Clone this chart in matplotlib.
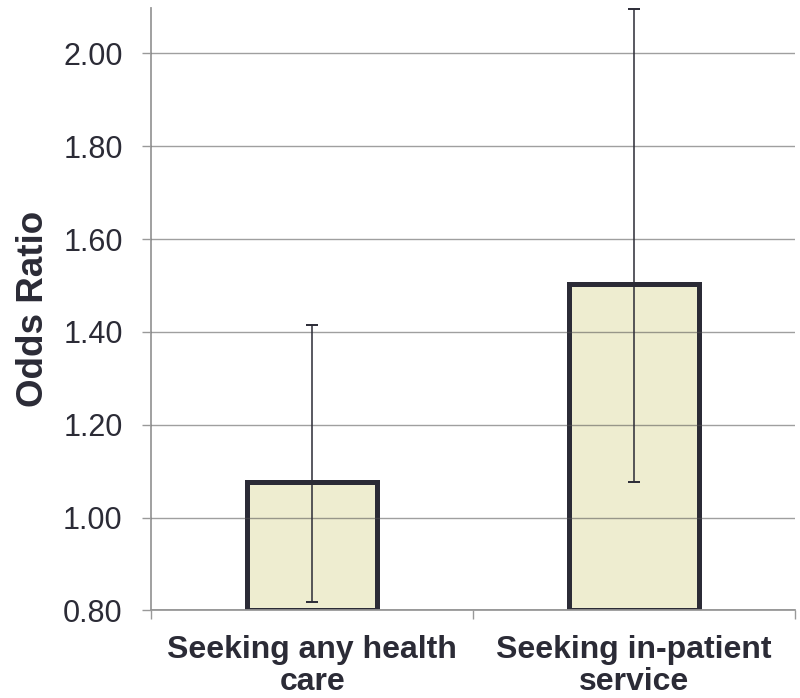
import numpy as np
import matplotlib.pyplot as plt

plt.rcParams['font.family'] = ['Liberation Sans', 'DejaVu Sans']

# Odds ratios with 95% CI
categories = ["Seeking any health\ncare", "Seeking in-patient\nservice"]
odds_ratio = [1.077, 1.503]
ci_low = [0.819, 1.076]
ci_high = [1.415, 2.095]
yticks = [0.80, 1.00, 1.20, 1.40, 1.60, 1.80, 2.00]

dark = '#2b2b36'
fill = '#eeedd0'

fig = plt.figure(figsize=(8, 6.98), dpi=100)
ax = fig.add_axes([0.189, 0.1254, 0.805, 0.8631])

x = np.arange(len(categories))
base = 0.8
heights = np.array(odds_ratio) - base
ax.bar(x, heights, bottom=base, width=0.405, color=fill, edgecolor=dark,
       linewidth=3.6, zorder=2)

yerr = [np.array(odds_ratio) - np.array(ci_low), np.array(ci_high) - np.array(odds_ratio)]
ax.errorbar(x, odds_ratio, yerr=yerr, fmt='none', ecolor=dark, elinewidth=1.1,
            capsize=4.3, capthick=1.4, zorder=3)

ax.set_xlim(-0.5, 1.5)
ax.set_ylim(0.8, 2.0975)
ax.set_yticks(yticks)
ax.set_yticklabels([f"{t:.2f}" for t in yticks])
ax.set_xticks(x)
ax.set_xticklabels(categories, fontweight='bold', linespacing=1.06)
ax.set_xticks([-0.5, 0.5, 1.5], minor=True)

ax.set_axisbelow(False)
ax.yaxis.grid(True, color='#505050', alpha=0.55, linewidth=1.0, zorder=2.5)

for s in ['top', 'right']:
    ax.spines[s].set_visible(False)
for s in ['left', 'bottom']:
    ax.spines[s].set_color('#999999')
    ax.spines[s].set_linewidth(1.3)

ax.tick_params(axis='y', length=6.5, width=1.0, color='#999999', pad=14,
               labelsize=22, labelcolor=dark)
ax.tick_params(axis='x', which='major', length=0, pad=18, labelsize=23,
               labelcolor=dark)
ax.tick_params(axis='x', which='minor', length=6.5, width=1.0, color='#999999')

ax.set_ylabel('Odds Ratio', fontsize=26.5, fontweight='bold', color=dark)
ax.yaxis.set_label_coords(-0.156, 0.5)

plt.savefig('out.png', dpi=100)
